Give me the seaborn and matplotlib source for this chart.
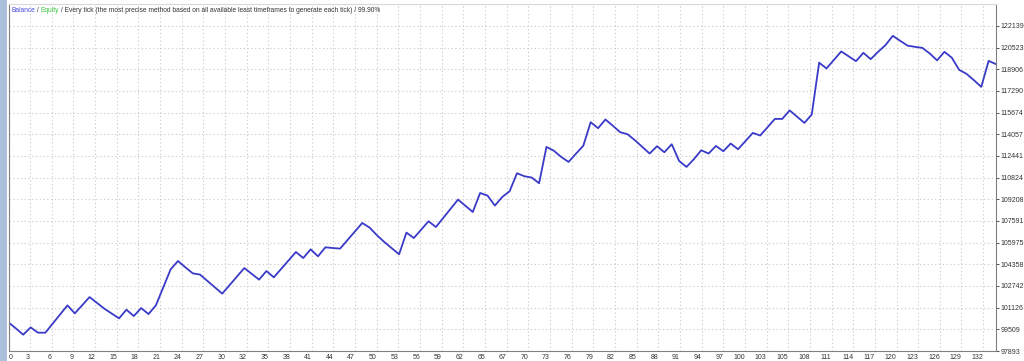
import numpy as np
import matplotlib
matplotlib.use("Agg")
import matplotlib.pyplot as plt
from matplotlib.patches import Rectangle
import seaborn as sns
import pandas as pd

# ---- data ----
balance = [
    100028, 99580, 99110, 99655, 99259, 99259, 99939, 100618, 101297, 100700,
    101312, 101917, 101484, 101051, 100685, 100327, 100976, 100499, 101096, 100648,
    101297, 102641, 103985, 104605, 104135, 103687, 103590, 103119, 102641, 102171,
    102806, 103448, 104082, 103649, 103216, 103858, 103388, 104015, 104642, 105277,
    104829, 105478, 104956, 105628, 105575, 105531, 106165, 106807, 107442, 107099,
    106524, 106024, 105568, 105105, 106725, 106322, 106949, 107569, 107143, 107823,
    108510, 109189, 108726, 108263, 109682, 109488, 108741, 109383, 109809, 111153,
    110929, 110832, 110406, 113116, 112832, 112370, 111996, 112608, 113206, 114960,
    114512, 115162, 114699, 114214, 114064, 113616, 113116, 112623, 113168, 112720,
    113318, 112071, 111623, 112198, 112870, 112623, 113191, 112795, 113370, 112944,
    113557, 114161, 113967, 114587, 115207, 115207, 115841, 115371, 114908, 115535,
    119403, 118969, 119604, 120239, 119873, 119515, 120134, 119664, 120209, 120709,
    121403, 121030, 120672, 120582, 120507, 120089, 119574, 120209, 119776, 118865,
    118566, 118096, 117596, 119537, 119291,
]
trade_index = list(range(len(balance)))

y_ticks = [97893, 99509, 101126, 102742, 104358, 105975, 107591, 109208,
           110824, 112441, 114057, 115674, 117290, 118906, 120523, 122139]
x_tick_labels = ["0", "3", "6", "9", "12", "15", "18", "21", "24", "27", "30", "32",
                 "35", "38", "41", "44", "47", "50", "53", "56", "59", "62", "65",
                 "67", "70", "73", "76", "79", "82", "85", "88", "91", "94", "97",
                 "100", "103", "105", "108", "111", "114", "117", "120", "123",
                 "126", "129", "132"]

df = pd.DataFrame({"trade": trade_index, "balance": balance})

sns.set_theme(style="white")
plt.rcParams["font.family"] = ["Liberation Sans", "DejaVu Sans"]
FS = 5.0

W, H = 1024, 361
fig = plt.figure(figsize=(W / 100, H / 100), dpi=100)
fig.patch.set_facecolor("white")
ax = fig.add_axes([8.5 / W, (H - 351) / H, (996 - 8.5) / W, (351 - 4.3) / H])

sns.lineplot(data=df, x="trade", y="balance", ax=ax, color="#3a3ac8",
             linewidth=1.3, legend=False)

# axes ranges / ticks
ystep = (y_ticks[-1] - y_ticks[0]) / (len(y_ticks) - 1)
ax.set_ylim(y_ticks[0], y_ticks[0] + len(y_ticks) * ystep)
ax.set_xlim(0, len(balance) - 1)
xstep = 2.939
xt = np.arange(len(x_tick_labels)) * xstep
ax.set_xticks(xt)
ax.set_xticklabels(x_tick_labels)
ax.set_yticks(y_ticks)
ax.set_yticklabels([str(v) for v in y_ticks])
ax.yaxis.tick_right()
ax.set_xlabel("")
ax.set_ylabel("")

for i, lab in enumerate(ax.get_xticklabels()):
    lab.set_ha("left" if i == 0 else "right")

ax.tick_params(axis="x", labelsize=FS, pad=2.5, length=0, colors="#333333")
ax.tick_params(axis="y", labelsize=FS, pad=1, length=2, width=0.6,
               colors="#333333", right=True)

ax.grid(True, linestyle=(0, (1.2, 2.2)), color="#cfcfcf", linewidth=0.8)
ax.set_axisbelow(True)
for side in ["left", "bottom", "right", "top"]:
    ax.spines[side].set_color("#808080")
    ax.spines[side].set_linewidth(0.8)
ax.spines["top"].set_color("#d8d8d8")

# left side bar
fig.patches.append(Rectangle((0, 0), 7 / W, 1, transform=fig.transFigure,
                             facecolor="#a9bfdc", edgecolor="none", zorder=0))

# title made of coloured parts
TFS = 4.8
parts = [("Balance", "#4a4ae0"), (" / ", "#333333"), ("Equity", "#3cc43c"),
         (" / Every tick (the most precise method based on all available least "
          "timeframes to generate each tick) / 99.90%", "#333333")]
prev = fig.text(11 / W, 1 - 12 / H, parts[0][0], color=parts[0][1],
                fontsize=TFS, va="baseline", ha="left")
for txt, col in parts[1:]:
    prev = ax.annotate(txt, xy=(1, 0), xycoords=prev, va="bottom", ha="left",
                       color=col, fontsize=TFS, annotation_clip=False)

fig.savefig("out.png", dpi=100, facecolor="white")
